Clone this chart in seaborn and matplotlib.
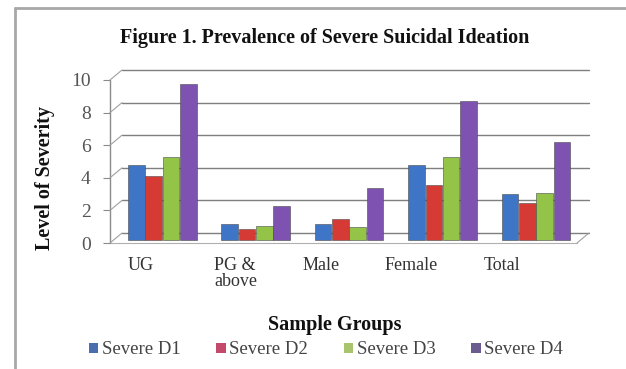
import matplotlib
matplotlib.use("Agg")
import matplotlib.pyplot as plt
from matplotlib.transforms import offset_copy
from matplotlib.patches import Patch
import seaborn as sns
import pandas as pd

# Sample groups and severity levels per depression category
groups = ["UG", "PG &\nabove", "Male", "Female", "Total"]
series = ["Severe D1", "Severe D2", "Severe D3", "Severe D4"]
d1 = [4.6, 1.0, 1.0, 4.6, 2.8]
d2 = [3.9, 0.7, 1.3, 3.4, 2.3]
d3 = [5.1, 0.85, 0.8, 5.1, 2.9]
d4 = [9.6, 2.1, 3.2, 8.5, 6.0]
yticks = [0, 2, 4, 6, 8, 10]

bar_colors = ["#3f75c6", "#d63a34", "#93c447", "#7d52b0"]
legend_colors = ["#4a6db0", "#c44a6c", "#a9c46c", "#6b5b8e"]

df = pd.DataFrame({
    "group": groups * 4,
    "series": sum([[s] * len(groups) for s in series], []),
    "value": d1 + d2 + d3 + d4,
})

sns.set_theme(style="white")
plt.rcParams["font.family"] = ["Liberation Serif", "DejaVu Serif"]

fig = plt.figure(figsize=(6.26, 3.69), dpi=100)
fig.patch.set_facecolor("white")
W, H = 626.0, 369.0

def fig_line(p0, p1, **kw):
    fig.add_artist(plt.Line2D([p0[0] / W, p1[0] / W], [p0[1] / H, p1[1] / H],
                              transform=fig.transFigure, **kw))

# outer chart frame (left and top edges)
fig_line((15, 0), (15, H - 8), color="#a8a8a8", lw=2)
fig_line((15, H - 8), (W, H - 8), color="#a8a8a8", lw=2)

ax = fig.add_axes([110 / W, 126 / H, 467 / W, 163 / H])
ax.set_facecolor("none")

sns.barplot(data=df, x="group", y="value", hue="series", palette=bar_colors,
            saturation=1, width=0.74, gap=0.04, ax=ax, legend=False, zorder=3,
            edgecolor="#4a4a4a", linewidth=0.4)

# bars stand slightly behind the front edge of the floor
for p in ax.patches:
    p.set_transform(offset_copy(ax.transData, fig=fig, x=0, y=3, units="dots"))

ax.set_xlim(-0.56, 4.44)
ax.set_ylim(0, 10)
for s in ax.spines.values():
    s.set_visible(False)

# back wall gridlines, depth connectors and floor
back = offset_copy(ax.transData, fig=fig, x=12, y=10, units="dots")
x0, x1 = ax.get_xlim()
for v in yticks:
    ax.plot([x0, x1], [v, v], transform=back, color="#7f7f7f", lw=1.0,
            clip_on=False, zorder=0.5)
fig.canvas.draw()
for v in yticks:
    fig_line(ax.transData.transform((x0, v)), back.transform((x0, v)),
             color="#a0a0a0", lw=0.8)
fig_line(ax.transData.transform((x1, 0)), back.transform((x1, 0)),
         color="#a0a0a0", lw=0.8)
ax.plot([x0, x1], [0, 0], color="#b0b0b0", lw=0.8, clip_on=False, zorder=0.6)
# front value axis
ax.plot([x0, x0], [0, 10], color="#8a8a8a", lw=1.0, clip_on=False, zorder=0.6)

ax.set_yticks(yticks)
ax.set_yticklabels([str(v) for v in yticks], fontsize=14, color="#555555")
ax.tick_params(axis="y", left=True, length=5, width=0.8, color="#8a8a8a", pad=9)
ax.set_xticks(range(len(groups)))
ax.set_xticklabels(groups, fontsize=13, color="#333333", linespacing=0.9,
                   va="top", ha="center", multialignment="left")
ax.tick_params(axis="x", bottom=False, pad=4)
for lbl, dx in zip(ax.get_xticklabels(), [-22, -20, -28, -31, -34]):
    lbl.set_transform(offset_copy(lbl.get_transform(), fig=fig, x=dx, y=0, units="dots"))

ax.set_xlabel("")
ax.set_ylabel("")
fig.text(45 / W, 1 - 178 / H, "Level of Severity", rotation=90, ha="center",
         va="center", fontsize=14.5, fontweight="bold", color="#111111")
fig.text(335 / W, 1 - 325 / H, "Sample Groups", ha="center", va="center",
         fontsize=14.5, fontweight="bold", color="#111111")
fig.text(325 / W, 1 - 38 / H, "Figure 1. Prevalence of Severe Suicidal Ideation",
         ha="center", va="center", fontsize=14.5, fontweight="bold", color="#111111")

handles = [Patch(facecolor=c, edgecolor="none") for c in legend_colors]
fig.legend(handles, series, loc="center", bbox_to_anchor=(326 / W, 1 - 350 / H),
           ncol=4, frameon=False, fontsize=13.5, handlelength=0.5, handleheight=0.5,
           handletextpad=0.2, columnspacing=1.9, labelcolor="#444444")

fig.savefig("out.png", dpi=100, facecolor="white")
